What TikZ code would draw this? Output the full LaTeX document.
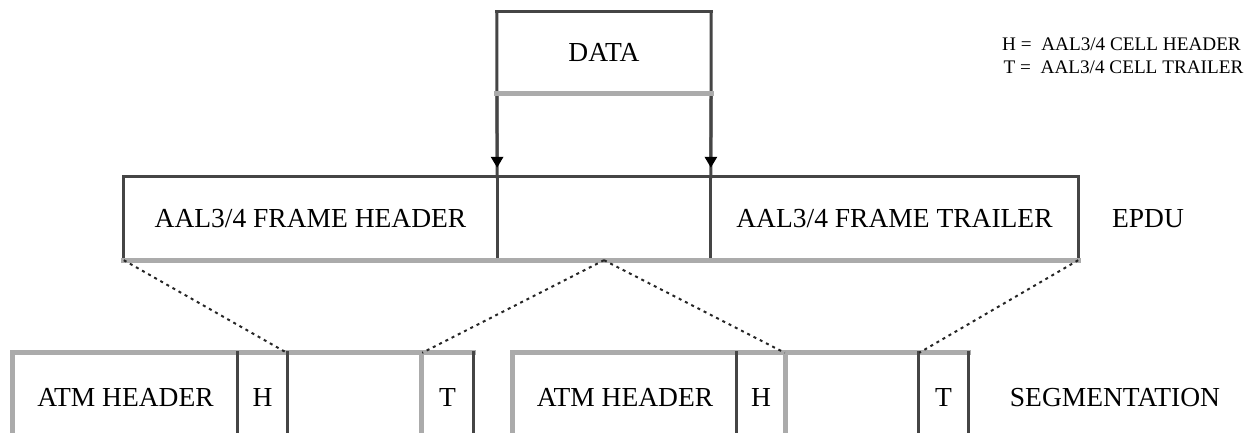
\documentclass[tikz,border=0pt]{standalone}
\usepackage{fontspec}
\setmainfont{Liberation Serif}
\usetikzlibrary{arrows.meta}
\definecolor{darkline}{HTML}{454545}
\definecolor{grayline}{HTML}{ABABAB}
\begin{document}
\begin{tikzpicture}[x=1pt,y=-1pt,
  darkedge/.style={draw=darkline, line width=3pt, line cap=rect},
  grayedge/.style={draw=grayline, line width=5pt, line cap=rect},
  cell/.style={inner sep=0pt, font=\fontsize{27.5}{33}\selectfont},
  legend/.style={inner sep=0pt, font=\fontsize{19.2}{23}\selectfont},
  guide/.style={draw=black!85, line width=2pt, dash pattern=on 3pt off 4pt},
  tip/.style={-{Triangle[length=11pt,width=12pt,color=black]}, shorten >=9pt}]
\useasboundingbox (0,0) rectangle (1249,432);

% user data block
\node[cell, minimum width=214pt, minimum height=81pt] (data) at (604,52.5) {DATA};

% legend
\node[legend] (legH) at (1121.5,44) {H =~~AAL3/4 CELL HEADER};
\node[legend] (legT) at (1123.5,67) {T =~~AAL3/4 CELL TRAILER};

% EPDU row
\node[cell, minimum width=373pt, minimum height=83pt] (hdr) at (310.5,218.5) {AAL3/4 FRAME HEADER};
\node[cell, minimum width=214pt, minimum height=83pt] (mid) at (604,218.5) {};
\node[cell, minimum width=367pt, minimum height=83pt] (trl) at (894.5,218.5) {AAL3/4 FRAME TRAILER};
\node[cell] (epdu) at (1148,219) {EPDU};

% segmentation row, first cell
\node[cell, minimum width=225pt, minimum height=89pt] (atmA) at (125.5,397.5) {ATM HEADER};
\node[cell, minimum width=49pt, minimum height=89pt] (hA) at (262.5,397.5) {H};
\node[cell, minimum width=135pt, minimum height=89pt] (payA) at (354.5,397.5) {};
\node[cell, minimum width=51pt, minimum height=89pt] (tA) at (447.5,397.5) {T};

% segmentation row, second cell
\node[cell, minimum width=224pt, minimum height=89pt] (atmB) at (625,397.5) {ATM HEADER};
\node[cell, minimum width=48pt, minimum height=89pt] (hB) at (761,397.5) {H};
\node[cell, minimum width=134pt, minimum height=89pt] (payB) at (852,397.5) {};
\node[cell, minimum width=49pt, minimum height=89pt] (tB) at (943.5,397.5) {T};
\node[cell] (seg) at (1115,398) {SEGMENTATION};

% DATA outline and arrows into the frame
\draw[darkedge] (data.north west) -- (data.north east);
\draw[darkedge] (data.north west) -- (hdr.north east);
\draw[darkedge] (data.north east) -- (trl.north west);
\draw[darkedge, tip] (data.south west) -- (hdr.north east);
\draw[darkedge, tip] (data.south east) -- (trl.north west);
\draw[grayedge] (data.south west) -- (data.south east);

% EPDU outline
\draw[darkedge] (hdr.south west) -- (hdr.north west) -- (trl.north east) -- (trl.south east);
\draw[darkedge] (hdr.north east) -- (hdr.south east);
\draw[darkedge] (trl.north west) -- (trl.south west);
\draw[grayedge] (hdr.south west) -- (trl.south east);

% first cell outline
\draw[grayedge] (atmA.north west) -- (tA.north east);
\draw[grayedge] (atmA.north west) -- (atmA.south west);
\draw[darkedge] (hA.north west) -- (hA.south west);
\draw[darkedge] (hA.north east) -- (hA.south east);
\draw[grayedge] (tA.north west) -- (tA.south west);
\draw[darkedge] (tA.north east) -- (tA.south east);

% second cell outline
\draw[grayedge] (atmB.north west) -- (tB.north east);
\draw[grayedge] (atmB.north west) -- (atmB.south west);
\draw[darkedge] (hB.north west) -- (hB.south west);
\draw[grayedge] (hB.north east) -- (hB.south east);
\draw[darkedge] (tB.north west) -- (tB.south west);
\draw[darkedge] (tB.north east) -- (tB.south east);

% segmentation guides
\draw[guide] (hdr.south west) -- (payA.north west);
\draw[guide] (mid.south) -- (payA.north east);
\draw[guide] (mid.south) -- (payB.north west);
\draw[guide] (trl.south east) -- (payB.north east);
\end{tikzpicture}
\end{document}
